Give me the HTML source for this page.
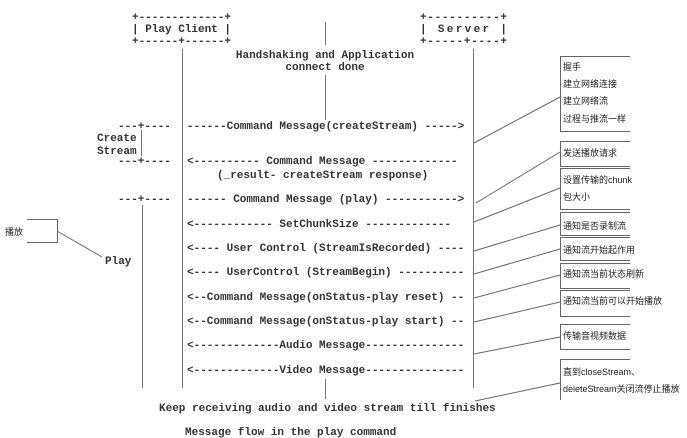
<!DOCTYPE html>
<html><head><meta charset="utf-8"><style>
html,body{margin:0;padding:0;background:#fff;width:687px;height:438px;overflow:hidden}
svg{display:block}
.m{font-family:"Liberation Mono",monospace;font-size:11px;font-weight:bold;fill:#333;white-space:pre}
.c{font-family:"Liberation Sans","Noto Sans CJK SC",sans-serif;font-size:9px;fill:#222}
</style></head><body>
<svg width="687" height="438" xmlns="http://www.w3.org/2000/svg" xml:space="preserve">
<g stroke="#777" stroke-width="1" fill="none">
<line x1="182.5" y1="49" x2="182.5" y2="388"/>
<line x1="473.5" y1="49" x2="473.5" y2="388"/>
<line x1="142.5" y1="205" x2="142.5" y2="388"/>
<line x1="141.5" y1="130" x2="141.5" y2="156"/>
<line x1="325.5" y1="22" x2="325.5" y2="45"/>
<line x1="325.5" y1="75" x2="325.5" y2="120"/>
<line x1="325.5" y1="379" x2="325.5" y2="399"/>
</g>
<g class="m">
<text x="132" y="20">+-------------+</text>
<text x="132" y="32">| Play Client |</text>
<text x="132" y="44">+------+------+</text>
<text x="420" y="20" textLength="87" lengthAdjust="spacing">+----------+</text>
<text x="420" y="32" textLength="87" lengthAdjust="spacing">|   Server |</text>
<text x="420" y="44" textLength="87" lengthAdjust="spacing">+-----+----+</text>
<text x="325" y="58" text-anchor="middle">Handshaking and Application</text>
<text x="325" y="70" text-anchor="middle">connect done</text>
<text x="118" y="129">---+----</text>
<text x="97" y="141">Create</text>
<text x="97" y="154">Stream</text>
<text x="118" y="164">---+----</text>
<text x="118" y="202">---+----</text>
<text x="187" y="129">------Command Message(createStream) -----&gt;</text>
<text x="187" y="164">&lt;---------- Command Message -------------</text>
<text x="217" y="178">(_result- createStream response)</text>
<text x="187" y="202">------ Command Message (play) -----------&gt;</text>
<text x="187" y="227">&lt;------------  SetChunkSize -------------</text>
<text x="187" y="251">&lt;---- User Control (StreamIsRecorded) ----</text>
<text x="187" y="275">&lt;---- UserControl (StreamBegin) ----------</text>
<text x="187" y="300">&lt;--Command Message(onStatus-play reset) --</text>
<text x="187" y="324">&lt;--Command Message(onStatus-play start) --</text>
<text x="187" y="348">&lt;-------------Audio Message---------------</text>
<text x="187" y="373">&lt;-------------Video Message---------------</text>
<text x="105" y="264">Play</text>
<text x="159" y="411">Keep receiving audio and video stream till finishes</text>
<text x="185" y="435">Message flow in the play command</text>
</g>
<g stroke="#666" stroke-width="1" fill="none">
<path d="M630 56.5H560.5V131.5H630"/>
<path d="M630 141.5H560.5V166.5H630"/>
<path d="M630 168.5H560.5V209.5H630"/>
<path d="M630 212.5H560.5V235.5H630"/>
<path d="M630 237.5H560.5V260.5H630"/>
<path d="M630 263.5H560.5V288.5H630"/>
<path d="M630 290.5H560.5V316.5H630"/>
<path d="M630 324.5H560.5V349.5H630"/>
<path d="M630 359.5H560.5V400"/>
<path d="M27 219.5H57.5V242.5H27"/>
<line x1="560" y1="97" x2="474" y2="143"/>
<line x1="560" y1="152" x2="476" y2="203"/>
<line x1="560" y1="188" x2="474" y2="222"/>
<line x1="560" y1="225" x2="474" y2="251"/>
<line x1="560" y1="249" x2="474" y2="274"/>
<line x1="560" y1="275" x2="474" y2="298"/>
<line x1="560" y1="302" x2="474" y2="322"/>
<line x1="560" y1="337" x2="474" y2="354"/>
<line x1="560" y1="383" x2="475" y2="401"/>
<line x1="57" y1="231" x2="102" y2="257"/>
</g>
<g class="c">
<text x="563" y="70">握手</text>
<text x="563" y="87">建立网络连接</text>
<text x="563" y="104">建立网络流</text>
<text x="563" y="122">过程与推流一样</text>
<text x="563" y="156">发送播放请求</text>
<text x="563" y="183">设置传输的chunk</text>
<text x="563" y="200">包大小</text>
<text x="563" y="229">通知是否录制流</text>
<text x="563" y="253">通知流开始起作用</text>
<text x="563" y="277">通知流当前状态刷新</text>
<text x="563" y="304">通知流当前可以开始播放</text>
<text x="563" y="339">传输音视频数据</text>
<text x="563" y="375">直到closeStream、</text>
<text x="563" y="392">deleteStream关闭流停止播放</text>
<text x="5" y="235">播放</text>
</g>
</svg>
</body></html>
